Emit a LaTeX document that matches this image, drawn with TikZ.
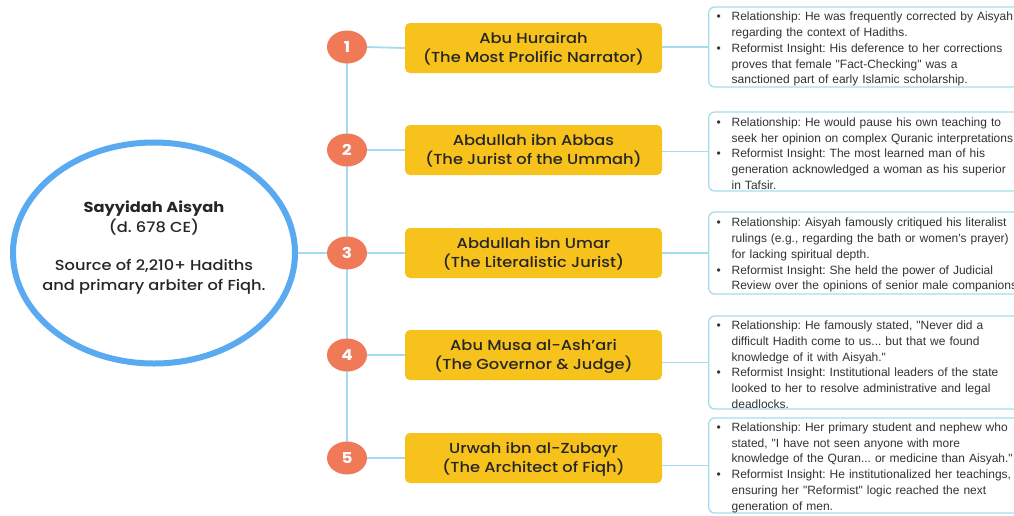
\documentclass[tikz,border=0pt]{standalone}
\usepackage{fontspec}
\setmainfont{Poppins}[UprightFont={* Medium}, BoldFont={* Bold}, FakeStretch=1.12]
\newfontfamily\notefont{Liberation Sans}
\usetikzlibrary{shapes.geometric,backgrounds}
\definecolor{ringblue}{HTML}{5AAAF2}
\definecolor{linkblue}{HTML}{A7DCEF}
\definecolor{numorange}{HTML}{F07A58}
\definecolor{boxyellow}{HTML}{F8C21C}
\definecolor{inktext}{HTML}{262626}
\newcommand\nbul{\rule{0pt}{13pt}\makebox[15pt][l]{•}}
\newcommand\nbuls{\makebox[15pt][l]{•}}
\newcommand\ncont{\hspace*{15pt}}
\frenchspacing
\begin{document}
\begin{tikzpicture}[x=1pt,y=-1pt,
  hub/.style={ellipse, draw=ringblue, line width=6pt, fill=white,
    minimum width=282, minimum height=221, inner sep=0pt, align=center,
    text=inktext, font=\fontsize{14.5}{20}\selectfont},
  num/.style={ellipse, fill=numorange, minimum width=40, minimum height=33,
    inner sep=0pt, text=white, font=\fontsize{15}{15}\selectfont\bfseries},
  person/.style={rectangle, rounded corners=5pt, fill=boxyellow,
    minimum width=257, minimum height=50, inner sep=0pt, align=center,
    text=inktext, font=\fontsize{14.5}{19}\selectfont},
  note/.style={rectangle, rounded corners=6pt, draw=linkblue, line width=1.3pt,
    fill=white, text width=310, inner xsep=8pt, inner ysep=0pt, align=left,
    anchor=west, text=black!80, font=\notefont\fontsize{12}{15.8}\selectfont},
  link/.style={draw=linkblue, line width=1.8pt}]
\useasboundingbox (0,0) rectangle (1014,515);
\begin{scope}[on background layer]
\fill[white] (0,0) rectangle (1014,515);
\end{scope}

\node[hub] (hub) at (154,253) {\makebox[0pt]{\raisebox{0pt}[\height][\dimexpr\depth+12pt\relax]{\begin{tabular}{@{}c@{}}\textbf{Sayyidah Aisyah}\\(d. 678 CE)\\[18pt]Source of 2,210+ Hadiths\\and primary arbiter of Fiqh.\end{tabular}}}};

\node[num] (n1) at (347,47) {1};
\node[num] (n2) at (347,150) {2};
\node[num] (n3) at (347,253) {3};
\node[num] (n4) at (347,355) {4};
\node[num] (n5) at (347,458) {5};

\node[person] (p1) at (533.5,48) {\rule{0pt}{13pt}Abu Hurairah\\(The Most Prolific Narrator)};
\node[person] (p2) at (533.5,150) {\rule{0pt}{13pt}Abdullah ibn Abbas\\(The Jurist of the Ummah)};
\node[person] (p3) at (533.5,253) {\rule{0pt}{13pt}Abdullah ibn Umar\\(The Literalistic Jurist)};
\node[person] (p4) at (533.5,355) {\rule{0pt}{13pt}Abu Musa al-Ash’ari\\(The Governor \& Judge)};
\node[person] (p5) at (533.5,458) {\rule{0pt}{13pt}Urwah ibn al-Zubayr\\(The Architect of Fiqh)};

\node[note, minimum height=80] (t1) at (708,47) {%
\nbul Relationship: He was frequently corrected by Aisyah\\
\ncont regarding the context of Hadiths.\\
\nbuls Reformist Insight: His deference to her corrections\\
\ncont proves that female "Fact-Checking" was a\\
\ncont sanctioned part of early Islamic scholarship.};
\node[note, minimum height=79] (t2) at (708,151.5) {%
\nbul Relationship: He would pause his own teaching to\\
\ncont seek her opinion on complex Quranic interpretations.\\
\nbuls Reformist Insight: The most learned man of his\\
\ncont generation acknowledged a woman as his superior\\
\ncont in Tafsir.};
\node[note, minimum height=82] (t3) at (708,253) {%
\nbul Relationship: Aisyah famously critiqued his literalist\\
\ncont rulings (e.g., regarding the bath or women's prayer)\\
\ncont for lacking spiritual depth.\\
\nbuls Reformist Insight: She held the power of Judicial\\
\ncont Review over the opinions of senior male companions.};
\node[note, minimum height=93] (t4) at (708,362.5) {%
\nbul Relationship: He famously stated, "Never did a\\
\ncont difficult Hadith come to us... but that we found\\
\ncont knowledge of it with Aisyah."\\
\nbuls Reformist Insight: Institutional leaders of the state\\
\ncont looked to her to resolve administrative and legal\\
\ncont deadlocks.};
\node[note, minimum height=95] (t5) at (708,465.5) {%
\nbul Relationship: Her primary student and nephew who\\
\ncont stated, "I have not seen anyone with more\\
\ncont knowledge of the Quran... or medicine than Aisyah."\\
\nbuls Reformist Insight: He institutionalized her teachings,\\
\ncont ensuring her "Reformist" logic reached the next\\
\ncont generation of men.};

\begin{scope}[on background layer]
\draw[link] (n1.center) -- (n5.center);
\draw[link] (hub.east) -- (n3.west);
\foreach \i in {1,...,5}{
  \draw[link] (n\i.east) -- (p\i.west);
  \draw[link] (p\i.east |- t\i.west) -- (t\i.west);
}
\end{scope}
\end{tikzpicture}
\end{document}
